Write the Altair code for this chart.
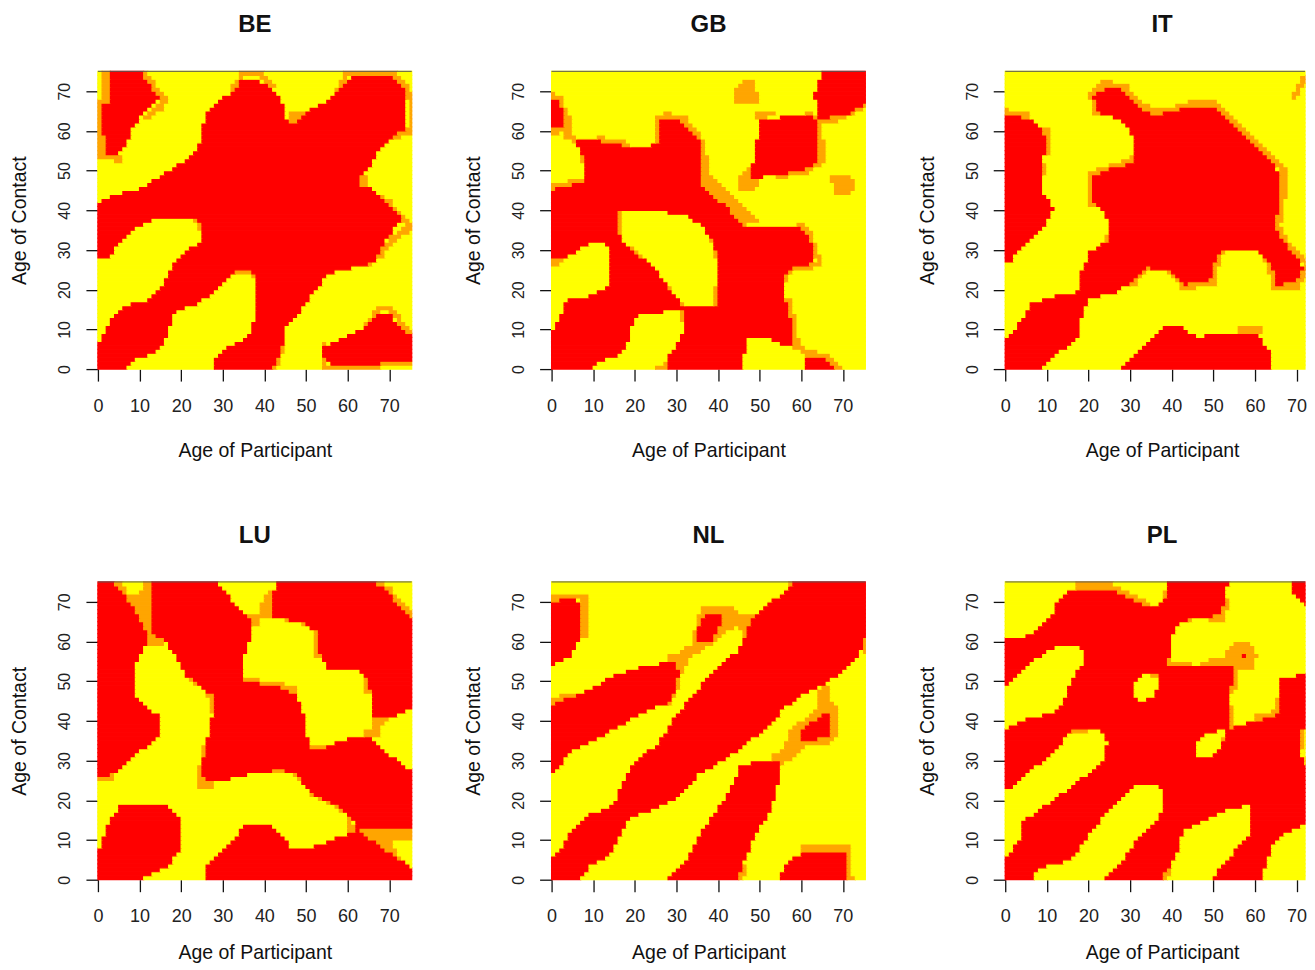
import altair as alt
import numpy as np
import pandas as pd

PANELS = ["BE", "GB", "IT", "LU", "NL", "PL"]
LEVELS = ["r", "o", "y"]
COLORS = ["#FF0000", "#FFA500", "#FFFF00"]
X_MAX = 75.4
Y_MAX = 75
TICKS = [0, 10, 20, 30, 40, 50, 60, 70]
# The window cuts the right column off; it shows only this much of the age range.
VISIBLE_X_RIGHT = 72.04
VISIBLE_WIDTH_RIGHT = 300
PANEL_WIDTH = 314

# Outlines, in (age of participant, age of contact).
BE_RED = [
[(0,42),(3.5,44),(9.5,45),(11.5,46),(15.5,49),(19.5,51.5),(23.5,54.5),(24.8,58.3),(26,64),(28.5,67),(32.4,70),(34.8,73),(38,73.2),(41,71.3),(44.4,67.5),(45.6,62.5),(47.2,62),(49.6,64.6),(54.4,67),(57.6,70),(61.2,74.2),(70.4,74.2),(74.4,70.5),(74.4,61.2),(71.2,58.7),(67.7,55),(65.6,51.6),(62.4,47),(66.8,44.9),(69.6,42.4),(73.2,38.2),(69.6,33.1),(66.8,27.3),(63.6,26),(58.8,25.2),(55.2,23.5),(51.6,18.9),(48.4,14.3),(45.6,11.3),(44.4,5.5),(42.4,.4),(42.4,-1),(27.6,-1),(27.6,2.5),(30.8,5.5),(34,7),(36.8,9.6),(38.4,14.7),(38.4,23),(36.4,24.7),(32.8,24.7),(28.4,19.7),(24.4,16.8),(18.8,14.3),(17.5,11.3),(16,6.3),(13.5,4.2),(9.5,2.5),(6.7,.4),(6.7,-1),(-1,-1),(-1,6),(0,6.3),(3.5,13),(6.7,16),(11.5,17.4),(14.7,19.7),(16.7,23.9),(18.8,27.7),(23.6,31.5),(25.3,32.7),(24.4,37.3),(21.6,38.2),(14.7,38.2),(9.5,36),(5.9,32.7),(2.7,28),(-1,27.7),(-1,42)],
[(54.4,5.5),(59.5,8),(64.7,10.9),(67.9,14.3),(70.3,13.8),(73.6,9.6),(76,9.2),(76,2.5),(67.6,2.5),(67.6,1.4),(55.6,1.4),(54.4,3.4)],
[(2.6,76),(9.5,76),(14.7,68.4),(11.5,65),(8.7,61),(6.7,56.6),(5.1,54),(1.9,54),(1.5,59),(1.5,67),(2.6,67.5)],
]
BE_HOLES = []
BE_ORANGE = [
[(45.6,64.6),(49.6,64.6),(49.6,61.7),(45.6,61.7)],
[(61.6,49.5),(65.2,49.5),(65.2,45.3),(61.6,45.3)],
]
BE_LINES = [
[(2,76),(2,68),(1,67),(1,54),(5,53)],
[(10,76),(15,69.5),(16,68),(15,66),(12,63.5)],
[(33,71),(35,74.5),(39,74.5),(42,71.5)],
[(58,70),(60,75),(70,75),(74,71),(75.4,68),(75.4,60),(72,59)],
[(66,44.5),(70,42),(74,37.5),(75.4,36),(71,33),(68,29),(65,26.5)],
[(21,38.5),(25,38),(25.5,32.5)],
[(33,25),(37,25),(38.5,23),(38.5,14)],
[(65,11),(67.5,15.5),(70.5,15.5),(74,10),(76,9.5)],
[(54.6,1),(54.6,6)],
[(55,0.7),(67,0.7)],
[(68,2),(76,2)],
[(42.5,0),(44.5,6)],
]

GB_RED = [
[(-1,44.5),(2.4,46),(8,47),(8.4,50),(7.2,55.4),(5.2,58),(12,57.5),(16.8,56.6),(20,55.6),(24,56.2),(25.6,57.5),(26.4,62.5),(28.4,63.5),(32,62),(35.3,58.7),(36.5,52.4),(35.7,48.2),(36.9,45.3),(42.5,40.7),(45.7,36.5),(60,35.6),(62.9,31.9),(63.3,28),(61.7,26.3),(57,25.2),(55.7,23),(56.5,17.2),(58,10.5),(58,5.6),(53.7,7),(52,8.4),(46.9,8.4),(46.5,3.8),(45.7,-1),(27.6,-1),(28.4,3.4),(32,9.6),(31.7,14.7),(21.6,14.3),(19.6,11.3),(18.4,7.1),(17.2,3.8),(12,2.1),(7.6,-1),(-1,-1),(-1,7.5),(2.4,13),(3.2,17.2),(8.8,18.5),(13.6,20.6),(14.4,24),(14.4,30.6),(12.8,31.5),(9.6,31.9),(5.6,29.4),(2.4,27.7),(-1,28)],
[(-1,69),(1.6,68),(3.2,63.8),(3.2,60.8),(-1,61.2)],
[(50.5,63.3),(62.5,63.8),(64,62.5),(64.5,52.4),(60.9,50.3),(54,49),(48.5,48.2),(48.5,52.4),(49.7,59)],
[(65.3,76),(76,76),(76,67),(70.5,63.8),(64,63.3),(63.3,69.2),(64.5,72.6)],
[(61.3,3.4),(65.7,3.4),(68.5,-1),(61.3,-1)],
]
GB_HOLES = [
[(16.4,39.9),(24,39.9),(32,39),(36,36.5),(38.9,32.3),(40,27.3),(40,16),(31.7,16),(29.6,18.9),(24.8,25.6),(16.8,32.3),(16,35.8)],
]
GB_ORANGE = [
[(44.5,67.5),(44.5,69),(44.5,71),(46.5,73),(48.5,73),(49.7,70),(49.7,67.5)],
[(67.5,48.8),(71.3,49.2),(73.3,46.6),(72.5,44.5),(68.5,44.5),(67.5,46.6)],
[(37.3,50.3),(42.5,44.9),(46.5,41.5),(50,37.3),(45.7,36.1),(40.9,41.5),(36.5,45.7),(35.7,48.2)],
[(44.5,47.8),(45.7,49),(47.7,50.8),(50.8,47),(48,44.5),(45,44.9)],
]
GB_LINES = [
[(16.8,32),(24.5,25),(29.5,18),(32,15.5),(40,15.5),(40.5,27),(39,33)],
[(16,34),(16,40)],
[(50,64),(53,64.5)],
[(62,64.5),(64.5,63),(65,52.5),(61,50),(55,49)],
[(64.5,63),(68,63)],
[(76,67),(70,64)],
[(0,60),(3,60.5),(4,59),(7,57),(12,58),(17,57),(20,55),(24,55.5),(26,58),(26,63),(28,64),(32,63),(35.5,59),(37,53),(37,49)],
[(0,69.5),(2,68),(3.8,64),(3.8,60)],
[(0,46),(3,46.5),(8.5,47.5),(8.7,51),(7.5,55)],
[(0.5,27),(2.5,27.5)],
[(9.6,32.5),(13,32.5),(14.8,30),(14.8,24)],
[(60,36),(62,34),(63.5,30),(64.5,27),(62,26),(57,25),(56,23)],
[(57,17),(58.5,10),(59,6),(62,4),(66,3.5),(69,0)],
[(47,9),(52,9),(54,7.5)],
[(25.5,0.5),(28,1)],
[(31.7,15),(32.5,10)],
]

IT_RED = [
[(17.8,19.7),(18.6,25.2),(20.6,29.8),(25.4,33.1),(25.4,37.3),(21.4,42.4),(21.4,49),(24.6,50.3),(30.6,52),(31,57.5),(29.4,61.7),(26.2,63.3),(21.8,65),(21.4,68.8),(24.6,71.3),(28.2,70.5),(32.6,65.9),(35.8,64.3),(39.8,64.6),(44.6,66.3),(50.2,66.3),(55,61.7),(60.7,55.8),(66.3,49.5),(66.3,44),(65,36.5),(66.3,33.1),(71.1,27.3),(71.9,25.2),(69.5,21.8),(65.5,21.4),(63.9,26.4),(60.7,30.2),(52.6,30.2),(50.6,27.3),(49.4,22.2),(43,21.4),(39,25.2),(33.8,25.6),(31,22.2),(26.2,19.3),(20.2,17.6),(18.6,13),(17.4,8),(12.6,3.8),(7.8,-1),(-1,-1),(-1,7.5),(0,7.5),(4.6,13),(6.6,16.8),(10.2,18)],
[(-1,64.2),(5.4,63.3),(9.4,60.4),(9.8,55.8),(8.6,50),(9,45.3),(11.6,40.7),(10.2,36.9),(5.4,32.3),(1.4,27.3),(-1,26.4)],
[(27,-1),(31.8,3.8),(38.2,10.9),(41.8,10.9),(46.2,8.4),(60.7,9.2),(63.5,4.6),(64.7,-1)],
[(72.7,76),(76,76),(76,72.5),(72.7,72.5)],
]
IT_HOLES = []
IT_ORANGE = []
IT_LINES = [
[(72,73),(69.5,69)],
[(22,64.5),(21,69),(24,72),(28.5,71.5),(33,66.5),(36,65),(40,65.5),(45,67),(50,67),(55,62.5),(61,56.5),(67,50),(67,44),(65.5,36),(67,33),(72,27.5),(72.7,25),(70,21),(65,21),(64,25.5),(61,31),(53,31),(51,28),(50,22),(43,20.8),(39.5,25.5),(34,26),(31,22)],
[(25,50.8),(31,52.5),(31.6,55)],
[(21,42),(21,49),(24,50.5)],
[(25.9,37),(26,33),(25,33)],
[(10,60),(10.2,55)],
[(9,50),(8.4,54)],
[(0,65),(5,64)],
[(57,10),(61,10)],
]

LU_RED = [
[(-1,76),(3.2,76),(6.4,72),(9.6,67),(11.6,63),(11.6,59),(9.6,55),(8.4,50),(9.6,45.3),(14.7,41.5),(14.7,36),(9.6,31.9),(5.2,28),(2.8,26),(-1,26)],
[(12.7,76),(27.6,76),(32,71),(36.9,65.9),(36.9,61.7),(34.9,55.4),(34.9,50),(42.5,49),(47.6,47),(50,40.7),(50.9,32.7),(53.7,33.1),(60.9,36),(65.7,35.6),(69.7,31.9),(76,27.3),(76,12.6),(62.5,13),(60,17.2),(52,21.4),(47.2,27.3),(43.3,27.7),(36.9,26.8),(28.4,24.7),(26,24.7),(24.8,27.7),(26,34),(27.6,41.5),(27.6,46.6),(21.6,51.2),(16.8,59.6),(12.8,62.9)],
[(43.3,76),(65.7,76),(69.7,72.6),(76,65),(76,43.2),(72,41.5),(66.5,41.5),(65.3,49),(64,52.4),(55.3,53.3),(53.3,57.5),(52.9,62.5),(48.9,65),(41.7,66.3),(41.7,70)],
[(-1,-1),(-1,6.3),(0,6.3),(2.8,14.7),(5.6,18.9),(16.8,19.3),(19.6,15.5),(19.6,7.6),(16.8,3.4),(8,-1)],
[(25.8,-1),(26.4,3.4),(32,9.6),(36,14.3),(41.7,14.3),(46.5,8.4),(49.7,7.6),(55.3,9.6),(62.5,12.6),(68,8.4),(72.5,5.5),(76,2.1),(76,-1)],
]
LU_HOLES = []
LU_ORANGE = [
[(10.8,76),(12.7,76),(13.2,62),(11.6,63),(8,69),(4.8,73),(3.2,76),(5.2,76),(7.6,72),(10.8,72.6)],
[(11.6,62),(15.6,62),(17.2,59.6),(11.6,59)],
[(41.7,73.4),(41.7,66.3),(38.9,66.3),(38.5,63.8),(35.7,64.2),(35.7,66.9),(38.9,67.5),(39.7,70.5)],
[(66,42),(72,42),(68,38.5),(66,38.5)],
[(64.3,38.2),(67.7,38.2),(67.7,35.7),(64.3,35.7)],
[(60.5,16),(62.5,13),(76,13),(76,10.5),(71,9.5),(73,5.5),(76,3),(76,1),(60.5,11)],
[(24,27.7),(24,23),(28.4,23),(28.4,25)],
[(34.9,55),(32.9,52.4),(32.9,50.3),(35.2,50)],
]
LU_LINES = [
[(53,63),(48.5,65.5),(42,67)],
[(53,62.5),(53,57)],
[(64,53),(65,48)],
[(66,76),(70,73),(75,67),(76,65)],
[(35,50),(42.5,49.5),(47,48)],
[(21.5,52),(27,47.5),(28,43)],
[(50.5,33),(54,33.5)],
[(47,28),(52,22),(59,18)],
[(37,27.3),(47,28)],
[(25,27.5),(26,33)],
[(0,26),(3,26)],
[(8,49.5),(8,51)],
]

NL_RED = [
[(-1,5.5),(0,5.5),(2.4,8),(5.2,13),(8,16),(13.6,18),(15.6,20.6),(18.4,27.3),(20.8,30.2),(25.6,34.4),(29.6,40.7),(32.8,45.3),(36,49),(40,54),(44.9,57.5),(48,65),(52.9,70),(57.7,74.2),(62.5,76),(76,76),(76,62.5),(74.5,57.5),(68,50.8),(61.7,47.4),(56.9,44),(50.5,37.3),(45.7,33.1),(40.9,29.8),(35.3,26.4),(30.4,20.6),(24.8,18),(18.4,15.1),(16.8,11.3),(14.4,6.3),(9.6,3.8),(5.6,-1),(-1,-1)],
[(-1,44),(0,44),(9.6,48.2),(16,52),(23.2,54.1),(29.6,55),(30.6,53.3),(30.4,49),(28.4,44.9),(20.8,41.5),(12.8,36.5),(4.8,32.3),(0,26.4),(-1,26.4)],
[(-1,70),(4.4,71),(7.2,70),(7.4,61.7),(4.8,56.6),(0,54),(-1,54)],
[(45.7,29.4),(55.3,29.8),(54.5,23.9),(52.9,17.2),(48.9,11.3),(46.5,4.6),(44.5,-1),(26.4,-1),(32.9,5.5),(36,12.2),(40,18),(43.3,23),(44.9,27.3)],
[(54.5,-1),(56,4.2),(60.9,7.1),(70.5,7.3),(71.3,3.8),(70.7,-1)],
[(36.9,66.7),(41.3,67.1),(41.3,65),(38.5,60.4),(35.4,60.4),(35.4,64.2)],
[(60.5,38.2),(66.1,41.9),(67.3,41.5),(67.3,36.5),(63.3,35.2),(60.5,35.2)],
]
NL_HOLES = []
NL_ORANGE = [
[(34.5,63),(36,69),(43.3,69.2),(45.7,67),(49.7,67),(47.5,60),(46,57.5),(45.5,63.3),(44,63.8),(37.7,58.7),(33,55.8),(32,52.4),(30.5,52.4),(29.5,55.5),(32,58.5),(34.5,59.5)],
[(64,48.2),(67.3,49.5),(67.5,45),(69.3,42.4),(69.3,36.5),(66.5,34.4),(60.9,33.6),(58,30.6),(55.3,29.4),(52.5,31),(56,33.1),(57.3,37.3),(59.3,39.4),(63.7,43.2)],
]
NL_LINES = [
[(0,71),(3,71.5),(8,71.5),(8,62)],
[(58,75),(62,75.5)],
[(75.7,62),(75.7,58)],
[(0,45),(5,46.5)],
[(29,56),(30.7,53),(30.4,49),(28,44.5)],
[(60.5,7.8),(71.5,7.8),(71.8,0)],
[(45,-0.5),(46.5,3)],
]

PL_RED = [
[(-1,60.8),(3.8,61.2),(7.8,62.9),(11.8,67),(12.6,70.5),(15,72.6),(17.8,73.4),(25.4,73.4),(27.8,72.1),(32.6,69.6),(36.6,68.8),(38.6,70.9),(39.8,76),(53.8,76),(53,69.6),(51,66.7),(45.4,65.9),(41.8,64.6),(40.2,60.8),(39.4,55),(38.2,52.4),(39.8,54.1),(54.6,54.1),(54.4,44),(53.8,38.2),(65.5,41.5),(66.4,50.8),(76,52.8),(76,15.5),(73,14.3),(67,11.3),(64,8),(61.5,-1),(48.6,-1),(55,7),(59,11.3),(59.5,18.9),(53.4,18),(48.6,15.1),(43,12.6),(41,5.5),(37.8,.8),(37.4,-1),(23,-1),(28.6,5.5),(32.6,11.3),(37.4,16.4),(38.2,21.8),(36.6,23.9),(31.4,23.9),(27,19.7),(21.4,13),(18.6,8.8),(15.8,5),(7.8,2.9),(5.8,-1),(-1,-1),(-1,5.5),(0,5.5),(3.4,9.6),(4.6,15.1),(9.4,18.5),(17.4,24.7),(23.8,29.8),(24.6,34.8),(23,37.8),(16.2,37.5),(11,31.5),(5.4,26.8),(0,22.2),(-1,22.2)],
[(69,76),(76,76),(76,68.8),(72.7,69.2),(69.5,72)],
[(57,56),(58,56),(58,57),(57,57)],
]
PL_HOLES = [
[(31,49),(32.6,51.6),(37,52.4),(37.4,49),(35,45.7),(32.6,44.9),(31,47)],
[(46.2,34),(47.8,36.9),(52.6,37.8),(52.6,34.8),(49.4,30.6),(46.7,30.6),(45.4,32.7)],
[(70.7,38.2),(76,38.6),(76,26.4),(73,27.3),(71.5,31.5),(70.7,34.8)],
[(-1,48.2),(0,48.2),(3.8,52.4),(7.8,55.8),(11.8,58.7),(18.2,58.7),(19.4,55.8),(15.4,49),(14.2,45.3),(12.2,42.4),(5.4,40.7),(0,37.8),(-1,37.8)],
]
PL_ORANGE = [
[(53.8,57.9),(55,59.8),(58.7,59.8),(60.7,56.6),(59.5,53.3),(56.7,53.3),(55.9,51.6),(55.4,47),(54.4,47),(54.4,54),(51.8,55.4)],
]
PL_LINES = [
[(39,55),(37.5,52.5),(36,52)],
[(39.5,54.7),(44,54.7)],
[(48,54.7),(54,55)],
[(53.5,70),(52,66),(46,66.5),(42,65.5)],
[(17.8,74),(25.5,74)],
[(27,73),(33,70),(36.5,68),(38.5,69.5),(39.5,74)],
[(11.5,59.5),(18.5,59.5),(20,56.5),(19.5,54)],
[(16,38),(23,38.5)],
[(31.5,24.5),(37,24.5),(38.8,22),(38.8,16)],
[(53.5,19),(59.5,19.5),(60,12)],
[(60.5,41),(65,42),(66,42),(66.3,47)],
[(54.5,43),(54.5,38),(53.5,36.5),(53,35)],
[(68.5,38),(71.5,39),(71,34)],
[(37.5,0),(39,2)],
]

SHAPES = {
    "BE": (BE_RED, BE_HOLES, BE_ORANGE, BE_LINES),
    "GB": (GB_RED, GB_HOLES, GB_ORANGE, GB_LINES),
    "IT": (IT_RED, IT_HOLES, IT_ORANGE, IT_LINES),
    "LU": (LU_RED, LU_HOLES, LU_ORANGE, LU_LINES),
    "NL": (NL_RED, NL_HOLES, NL_ORANGE, NL_LINES),
    "PL": (PL_RED, PL_HOLES, PL_ORANGE, PL_LINES),
}

LINE_HALF_WIDTH = 0.75
CX, CY = np.meshgrid(np.arange(76) + 0.5, np.arange(75) + 0.5)


def inside(poly):
    xs = np.array([p[0] for p in poly], float)
    ys = np.array([p[1] for p in poly], float)
    mask = np.zeros(CX.shape, bool)
    for i in range(len(xs)):
        j = (i - 1) % len(xs)
        crosses = (ys[i] > CY) != (ys[j] > CY)
        with np.errstate(divide="ignore", invalid="ignore"):
            at = (xs[j] - xs[i]) * (CY - ys[i]) / (ys[j] - ys[i]) + xs[i]
        mask ^= crosses & (CX < at)
    return mask


def near(line):
    mask = np.zeros(CX.shape, bool)
    for (x0, y0), (x1, y1) in zip(line[:-1], line[1:]):
        dx, dy = x1 - x0, y1 - y0
        t = np.clip(((CX - x0) * dx + (CY - y0) * dy) / max(dx * dx + dy * dy, 1e-9), 0, 1)
        mask |= np.hypot(CX - (x0 + t * dx), CY - (y0 + t * dy)) <= LINE_HALF_WIDTH
    return mask


def table(shapes, x_limit):
    red, holes, orange, lines = shapes
    grid = np.full(CX.shape, "y", dtype="<U1")
    for p in orange:
        grid[inside(p)] = "o"
    for l in lines:
        grid[near(l)] = "o"
    red_mask = np.zeros(CX.shape, bool)
    for p in red:
        red_mask |= inside(p)
    for p in holes:
        red_mask &= ~inside(p)
    grid[red_mask] = "r"
    recs = []
    for j in range(grid.shape[0]):
        start = 0
        for i in range(1, grid.shape[1] + 1):
            if i == grid.shape[1] or grid[j, i] != grid[j, start]:
                if start < x_limit:
                    recs.append(dict(x=start, x2=min(i, x_limit), y=j, y2=j + 1, v=str(grid[j, start])))
                start = i
    return pd.DataFrame(recs)


FONT = "Liberation Sans"
axis_common = dict(
    values=TICKS, tickColor="#111111", tickWidth=1.3, tickSize=12, grid=False,
    labelFont=FONT, labelColor="#222222", labelFlush=False, labelOverlap=False,
    titleFont=FONT, titleFontSize=19.5, titleFontWeight="normal", titleColor="#111111",
)


def panel(name, right, bottom):
    color = alt.Scale(domain=LEVELS, range=COLORS)
    x_limit = VISIBLE_X_RIGHT if right else X_MAX
    width = VISIBLE_WIDTH_RIGHT if right else PANEL_WIDTH
    base = alt.Chart(table(SHAPES[name], x_limit)).mark_rect(strokeWidth=1.2).encode(
        x=alt.X("x:Q", scale=alt.Scale(domain=[0, x_limit], nice=False),
                axis=alt.Axis(title="Age of Participant", domain=False, labelFontSize=18,
                              labelPadding=16, titlePadding=18 if bottom else 26, labelAngle=0,
                              titleX=PANEL_WIDTH / 2, **axis_common)),
        x2="x2:Q",
        y=alt.Y("y:Q", scale=alt.Scale(domain=[0, Y_MAX], nice=False),
                axis=alt.Axis(title="Age of Contact", domain=True, domainColor="#222222",
                              domainWidth=1, labelFontSize=16, labelAngle=270, labelAlign="center",
                              labelBaseline="bottom", labelPadding=13,
                              titlePadding=27, **axis_common)),
        y2="y2:Q",
        color=alt.Color("v:N", scale=color, legend=None),
        stroke=alt.Stroke("v:N", scale=color, legend=None),
    )
    top = alt.Chart().mark_rule(color="#555555", strokeWidth=1).encode(y=alt.datum(Y_MAX))
    return alt.layer(base, top).properties(
        width=width, height=298,
        title=alt.TitleParams(name, font=FONT, fontSize=24, fontWeight="bold", color="#111111",
                              anchor="middle", offset=33.5, dx=(PANEL_WIDTH - width) / 2),
    )


charts = [panel(n, i % 3 == 2, i >= 3) for i, n in enumerate(PANELS)]
chart = alt.concat(*charts, columns=3, spacing={"row": 213, "column": 140}, bounds="flush").properties(
    padding={"left": 2, "top": 4, "right": 0, "bottom": 0},
    background="white",
).configure_view(stroke=None)

chart.save("out.html", embed_options={"renderer": "svg", "actions": False})
